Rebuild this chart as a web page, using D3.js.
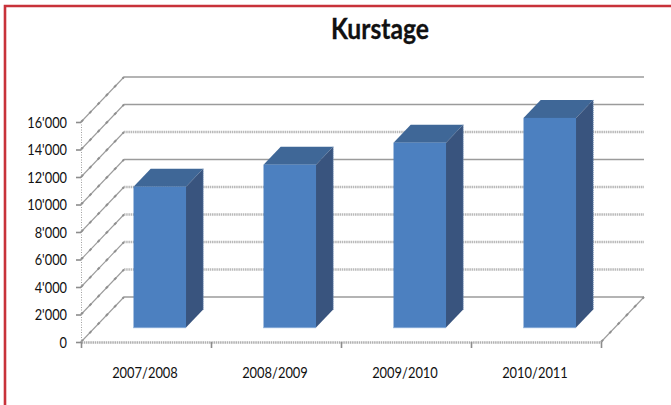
<!DOCTYPE html>
<html><head><meta charset="utf-8">
<script src="https://cdn.jsdelivr.net/npm/d3@7/dist/d3.min.js"></script>
<style>html,body{margin:0;padding:0;background:#fff}svg{display:block}text{font-family:Lato,"Open Sans",sans-serif;fill:#111}</style>
</head><body><script>
const categories = ["2007/2008","2008/2009","2009/2010","2010/2011"];
const values = [10250,11850,13450,15250];
const yTicks = [0,2000,4000,6000,8000,10000,12000,14000,16000];
const tickLabels = ["0","2'000","4'000","6'000","8'000","10'000","12'000","14'000","16'000"];
const dottedTicks = [2000,4000,6000,8000,12000];
const titleText = "Kurstage";

const W=671,H=405;
const svg=d3.select("body").append("svg").attr("width",W).attr("height",H);
svg.append("path").attr("d","M5 405V6H671").attr("fill","none").attr("stroke","#c8323a").attr("stroke-width",2.6);

const x=d3.scaleBand().domain(categories).range([81,601]);
const y=d3.scaleLinear().domain([0,16000]).range([342,122]);
const depthX=d3.scaleLinear().domain([0,1]).range([0,43]);
const depthY=d3.scaleLinear().domain([0,1]).range([0,-45]);
const front=0.32, back=0.72, barW=52.5;

svg.append("text").attr("x",380).attr("y",39).attr("text-anchor","middle").attr("font-size",28).attr("font-weight",700).attr("stroke","#111").attr("stroke-width",0.3).attr("textLength",98).attr("lengthAdjust","spacingAndGlyphs").text(titleText);

const squeeze=(sel,k)=>sel.each(function(){const n=this.getComputedTextLength();d3.select(this).attr("textLength",n*k).attr("lengthAdjust","spacingAndGlyphs");});

const grid=svg.append("g").attr("fill","none");
yTicks.forEach(t=>{
  const y0=y(t), x0=81, bx0=x0+depthX(1), by0=y0+depthY(1);
  const dotted=dottedTicks.includes(t);
  grid.append("line").attr("x1",x0).attr("y1",y0).attr("x2",bx0).attr("y2",by0).attr("stroke","#9c9c9c").attr("stroke-width",1.1);
  grid.append("line").attr("x1",x0).attr("y1",y0).attr("x2",bx0).attr("y2",by0).attr("stroke","#909090").attr("stroke-width",2).attr("stroke-dasharray","3 9");
  const ln=grid.append("line").attr("x1",bx0).attr("x2",601+depthX(1)).attr("y1",by0).attr("y2",by0);
  if(dotted) ln.attr("stroke","#b9b9b9").attr("stroke-width",2.4).attr("stroke-dasharray","1.5 0.7");
  else ln.attr("stroke","#9b9b9b").attr("stroke-width",1.5);
});
// right floor edge
svg.append("line").attr("x1",601).attr("y1",342).attr("x2",601+depthX(1)).attr("y2",342+depthY(1)).attr("stroke","#9c9c9c").attr("stroke-width",1.1);
svg.append("line").attr("x1",601).attr("y1",342).attr("x2",601+depthX(1)).attr("y2",342+depthY(1)).attr("stroke","#909090").attr("stroke-width",2).attr("stroke-dasharray","3 9");

// axes
const yAxis=d3.axisLeft(y).tickValues(yTicks).tickFormat((d,i)=>tickLabels[i]).tickSize(5).tickPadding(9);
const ga=svg.append("g").attr("transform","translate(81,0)").call(yAxis);
ga.select(".domain").attr("stroke","#a0a0a0").attr("stroke-dasharray","1 1.5").attr("stroke-width",1);
ga.selectAll(".tick line").attr("stroke","#8c8c8c").attr("stroke-width",1.6);
ga.selectAll("text").attr("font-size",16).attr("fill","#111").call(squeeze,0.8);

const xb=d3.scaleLinear().domain([0,categories.length]).range([81,601]);
const bx=d3.axisBottom(xb).tickValues(d3.range(0,categories.length+1)).tickFormat("").tickSize(6).tickSizeOuter(0);
const gb=svg.append("g").attr("transform","translate(0,342)").call(bx);
gb.select(".domain").attr("stroke","#b0b0b0").attr("stroke-width",2.4).attr("stroke-dasharray","1.5 0.7");
gb.selectAll(".tick line").attr("stroke","#8c8c8c").attr("stroke-width",1.6);
svg.append("g").selectAll("text").data(categories).join("text")
  .attr("x",d=>x(d)+x.bandwidth()/2-1).attr("y",378).attr("text-anchor","middle").attr("font-size",14.5).text(d=>d).call(squeeze,0.89);

// bars
const bars=svg.append("g").selectAll("g").data(categories).join("g");
bars.each(function(c,i){
  const g=d3.select(this);
  const cx=x(c)+x.bandwidth()/2+depthX(front);
  const l=cx-barW/2, r=cx+barW/2;
  const dy0=depthY(front), dd=depthX(back-front), de=depthY(back-front);
  const b=y(0)+dy0, t=y(values[i])+dy0;
  g.append("polygon").attr("points",[[l,t],[r,t],[r+dd,t+de],[l+dd,t+de]].join(" ")).attr("fill","#3f6797");
  g.append("polygon").attr("points",[[r,t],[r+dd,t+de],[r+dd,b+de],[r,b]].join(" ")).attr("fill","#39547e");
  g.append("rect").attr("x",l).attr("y",t).attr("width",barW).attr("height",b-t).attr("fill","#4c80c0");
  g.append("line").attr("x1",l).attr("x2",r).attr("y1",b).attr("y2",b).attr("stroke","#6f9ad0").attr("stroke-width",1.4).attr("stroke-dasharray","1 1");
  g.append("line").attr("x1",r+dd).attr("x2",r+dd).attr("y1",t+de).attr("y2",b+de).attr("stroke","#6f8fb8").attr("stroke-width",1).attr("stroke-dasharray","1 1");
});
</script></body></html>
